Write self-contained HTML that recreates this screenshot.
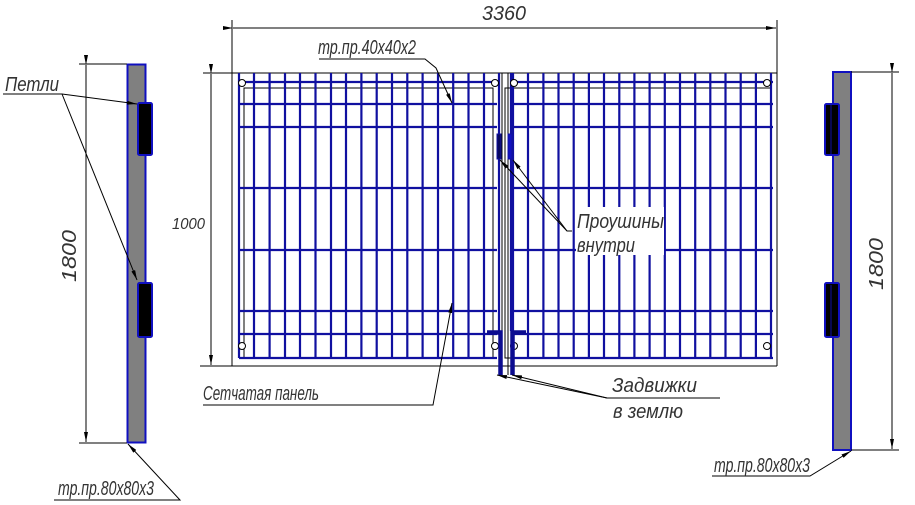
<!DOCTYPE html>
<html><head><meta charset="utf-8"><style>
html,body{margin:0;padding:0;background:#fff;width:915px;height:505px;overflow:hidden}
svg{display:block}
text{font-family:"Liberation Sans Narrow","Liberation Sans",sans-serif;font-style:italic;fill:#333}
</style></head><body>
<svg width="915" height="505" viewBox="0 0 915 505" xmlns="http://www.w3.org/2000/svg">
<defs>
<marker id="a" viewBox="0 0 10 4" refX="10" refY="2" markerWidth="10" markerHeight="4" orient="auto" markerUnits="userSpaceOnUse"><path d="M0,0 L10,2 L0,4z" fill="#000"/></marker>
</defs>
<g stroke="#000" stroke-width="1" fill="none">
<line x1="203" y1="73" x2="777" y2="73"/>
<line x1="200" y1="366" x2="777" y2="366"/>
<line x1="232" y1="20" x2="232" y2="366"/>
<line x1="777" y1="20" x2="777" y2="366"/>
<line x1="233" y1="28" x2="776" y2="28" marker-start="url(#a)" marker-end="url(#a)"/>
<line x1="211" y1="74" x2="211" y2="365" marker-start="url(#a)" marker-end="url(#a)"/>
<rect x="244" y="88" width="249" height="270"/>
<rect x="505" y="88" width="266" height="270"/>
<line x1="502" y1="73" x2="502" y2="375"/>
<line x1="508" y1="73" x2="508" y2="375"/>
</g>
<g stroke="#1010a0" stroke-width="2.2">
<line x1="239" y1="82" x2="497" y2="82"/><line x1="239" y1="104" x2="497" y2="104"/><line x1="239" y1="127" x2="497" y2="127"/><line x1="239" y1="188" x2="497" y2="188"/><line x1="239" y1="250" x2="497" y2="250"/><line x1="239" y1="311" x2="497" y2="311"/><line x1="239" y1="334" x2="497" y2="334"/><line x1="239" y1="358" x2="497" y2="358"/>
<line x1="511" y1="82" x2="773" y2="82"/><line x1="511" y1="104" x2="773" y2="104"/><line x1="511" y1="127" x2="773" y2="127"/><line x1="511" y1="188" x2="773" y2="188"/><line x1="511" y1="250" x2="773" y2="250"/><line x1="511" y1="311" x2="773" y2="311"/><line x1="511" y1="334" x2="773" y2="334"/><line x1="511" y1="358" x2="773" y2="358"/>
<g>
<line x1="239" y1="73" x2="239" y2="358"/><line x1="254" y1="73" x2="254" y2="358"/><line x1="269.6" y1="73" x2="269.6" y2="358"/><line x1="285" y1="73" x2="285" y2="358"/><line x1="300" y1="73" x2="300" y2="358"/><line x1="315.5" y1="73" x2="315.5" y2="358"/><line x1="331" y1="73" x2="331" y2="358"/><line x1="346" y1="73" x2="346" y2="358"/><line x1="361.4" y1="73" x2="361.4" y2="358"/><line x1="376.7" y1="73" x2="376.7" y2="358"/><line x1="392" y1="73" x2="392" y2="358"/><line x1="407.3" y1="73" x2="407.3" y2="358"/><line x1="422.6" y1="73" x2="422.6" y2="358"/><line x1="438" y1="73" x2="438" y2="358"/><line x1="453.2" y1="73" x2="453.2" y2="358"/><line x1="468.5" y1="73" x2="468.5" y2="358"/><line x1="484" y1="73" x2="484" y2="358"/>
<line x1="513" y1="73" x2="513" y2="358"/><line x1="528" y1="73" x2="528" y2="358"/><line x1="543.4" y1="73" x2="543.4" y2="358"/><line x1="558.5" y1="73" x2="558.5" y2="358"/><line x1="573.7" y1="73" x2="573.7" y2="358"/><line x1="588.9" y1="73" x2="588.9" y2="358"/><line x1="604" y1="73" x2="604" y2="358"/><line x1="619.3" y1="73" x2="619.3" y2="358"/><line x1="634.4" y1="73" x2="634.4" y2="358"/><line x1="649.6" y1="73" x2="649.6" y2="358"/><line x1="664.8" y1="73" x2="664.8" y2="358"/><line x1="680" y1="73" x2="680" y2="358"/><line x1="695.2" y1="73" x2="695.2" y2="358"/><line x1="710.3" y1="73" x2="710.3" y2="358"/><line x1="725.5" y1="73" x2="725.5" y2="358"/><line x1="740.7" y1="73" x2="740.7" y2="358"/><line x1="755.9" y1="73" x2="755.9" y2="358"/><line x1="771" y1="73" x2="771" y2="358"/>
</g>
<line x1="499" y1="73" x2="499" y2="331"/><line x1="511" y1="73" x2="511" y2="331"/>
</g>
<rect x="497" y="134" width="4" height="25" fill="#0a0a60" stroke="#1010a0" stroke-width="1"/>
<rect x="508" y="134" width="4" height="25" fill="#1010c0" stroke="#1010a0" stroke-width="1"/>
<g fill="#fff" stroke="#000" stroke-width="1">
<circle cx="242" cy="83" r="3.5"/><circle cx="495" cy="83" r="3.5"/><circle cx="514" cy="83" r="3.5"/><circle cx="767" cy="83" r="3.5"/>
<circle cx="242" cy="346" r="3.5"/><circle cx="495" cy="346" r="3.5"/><circle cx="514" cy="346" r="3.5"/><circle cx="767" cy="346" r="3.5"/>
</g>
<path d="M487,332.5 H500.5 V375" stroke="#0c0c90" stroke-width="4.5" fill="none"/>
<path d="M526,332.5 H512.5 V375" stroke="#0c0c90" stroke-width="4.5" fill="none"/>
<rect x="127.5" y="64.5" width="18" height="378" fill="#808080" stroke="#1010c0" stroke-width="2"/>
<rect x="138" y="103" width="14" height="52" rx="1.5" fill="#000" stroke="#1010c0" stroke-width="2"/>
<rect x="138" y="283" width="14" height="54" rx="1.5" fill="#000" stroke="#1010c0" stroke-width="2"/>
<rect x="833" y="72" width="18" height="378" fill="#808080" stroke="#1010c0" stroke-width="2"/>
<rect x="825" y="104" width="14" height="51" rx="1.5" fill="#000" stroke="#1010c0" stroke-width="2"/>
<rect x="825" y="283" width="14" height="54" rx="1.5" fill="#000" stroke="#1010c0" stroke-width="2"/>
<line x1="831" y1="105" x2="831" y2="154" stroke="#1010a0" stroke-width="1"/>
<line x1="831" y1="285" x2="831" y2="336" stroke="#1010a0" stroke-width="1"/>
<g stroke="#000" stroke-width="1" fill="none">
<line x1="79" y1="64" x2="127" y2="64"/><line x1="79" y1="443" x2="127" y2="443"/>
<line x1="86" y1="65" x2="86" y2="442" marker-start="url(#a)" marker-end="url(#a)"/>
<line x1="851" y1="72" x2="899" y2="72"/><line x1="851" y1="450" x2="899" y2="450"/>
<line x1="892" y1="73" x2="892" y2="449" marker-start="url(#a)" marker-end="url(#a)"/>
<polyline points="3,94 62,94 137,104" marker-end="url(#a)"/>
<line x1="62" y1="94" x2="137" y2="280" marker-end="url(#a)"/>
<polyline points="54,500 180,500 128,444" marker-end="url(#a)"/>
<polyline points="712,476 810,476 851,451" marker-end="url(#a)"/>
<polyline points="319,59 425,59 436,68 452,103" marker-end="url(#a)"/>
<polyline points="203,405 433,405 452,303" marker-end="url(#a)"/>
<polyline points="572,231 567,231 500,160" marker-end="url(#a)"/>
<line x1="567" y1="231" x2="513" y2="160" marker-end="url(#a)"/>
<polyline points="720,398 607,398 497,375" marker-end="url(#a)"/>
<line x1="607" y1="398" x2="512" y2="375" marker-end="url(#a)"/>
</g>
<rect x="576" y="207" width="88" height="48" fill="#fff"/>
<g font-size="20">
<text x="482" y="20" textLength="44" lengthAdjust="spacingAndGlyphs">3360</text>
<text x="172" y="229" font-size="16" textLength="33" lengthAdjust="spacingAndGlyphs">1000</text>
<text x="5" y="91" textLength="54" lengthAdjust="spacingAndGlyphs">Петли</text>
<text x="318" y="54" textLength="98" lengthAdjust="spacingAndGlyphs">тр.пр.40х40х2</text>
<text x="203" y="400" textLength="116" lengthAdjust="spacingAndGlyphs">Сетчатая панель</text>
<text x="577" y="228" textLength="87" lengthAdjust="spacingAndGlyphs">Проушины</text>
<text x="577" y="252" textLength="58" lengthAdjust="spacingAndGlyphs">внутри</text>
<text x="612" y="392" textLength="85" lengthAdjust="spacingAndGlyphs">Задвижки</text>
<text x="613" y="418" textLength="70" lengthAdjust="spacingAndGlyphs">в землю</text>
<text x="58" y="495" textLength="96" lengthAdjust="spacingAndGlyphs">тр.пр.80х80х3</text>
<text x="714" y="472" textLength="96" lengthAdjust="spacingAndGlyphs">тр.пр.80х80х3</text>
<text transform="translate(76,282) rotate(-90)" textLength="52" lengthAdjust="spacingAndGlyphs">1800</text>
<text transform="translate(883,290) rotate(-90)" textLength="52" lengthAdjust="spacingAndGlyphs">1800</text>
</g>
</svg>
</body></html>
